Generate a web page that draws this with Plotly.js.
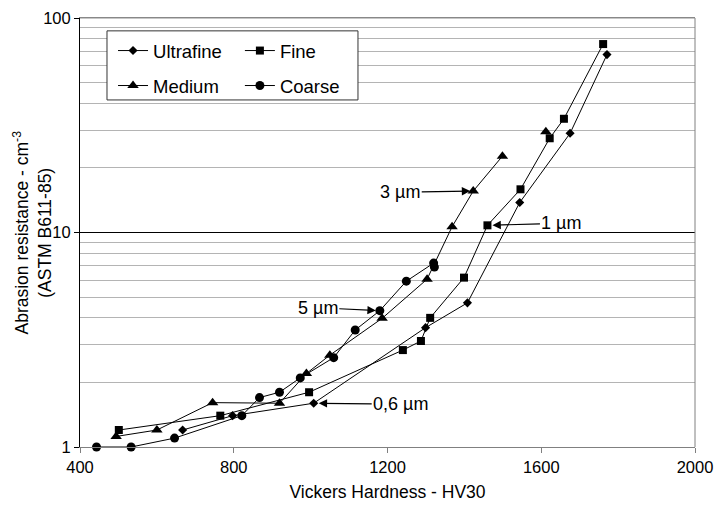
<!DOCTYPE html>
<html>
<head>
<meta charset="utf-8">
<script src="https://cdn.plot.ly/plotly-3.0.1.min.js"></script>
<style>html,body{margin:0;padding:0;background:#fff;}#chart{width:715px;height:507px;}</style>
</head>
<body>
<div id="chart"></div>
<script>
// ---- data ----
const ultrafineX = [667, 797, 1008, 1299, 1408, 1544, 1675, 1771];
const ultrafineY = [1.2, 1.4, 1.6, 3.6, 4.7, 13.8, 29, 67.5];

const fineX = [501, 765, 996, 1240, 1287, 1311, 1399, 1460, 1546, 1622, 1659, 1761];
const fineY = [1.2, 1.4, 1.8, 2.83, 3.12, 4.0, 6.16, 10.8, 15.9, 27.5, 33.9, 75.6];

const mediumX = [494, 600, 745, 919, 989, 1050, 1186, 1303, 1368, 1423, 1499];
const mediumY = [1.12, 1.2, 1.61, 1.6, 2.2, 2.68, 3.98, 6.06, 10.64, 15.6, 22.7];
const mediumLoneX = [1612];
const mediumLoneY = [29.5];

const coarseX = [443, 533, 646, 821, 867, 919, 973, 1060, 1116, 1180, 1249, 1320, 1322];
const coarseY = [1.0, 1.0, 1.1, 1.4, 1.7, 1.8, 2.1, 2.61, 3.51, 4.32, 5.93, 7.2, 6.9];

const seriesNames = ['Ultrafine', 'Fine', 'Medium', 'Coarse'];
const xTickVals = [400, 800, 1200, 1600, 2000];
const sizeLabels = ['3 µm', '1 µm', '5 µm', '0,6 µm'];

const FONT = 'Liberation Sans, Arial, Helvetica, sans-serif';

function tr(name, x, y, symbol, size, legend, show) {
  return {
    type: 'scatter', mode: 'lines+markers', name: name, x: x, y: y,
    line: {color: '#000', width: 1},
    marker: {symbol: symbol, size: size, color: '#000'},
    cliponaxis: false, legend: legend, showlegend: show !== false
  };
}

const traces = [
  tr(seriesNames[0], ultrafineX, ultrafineY, 'diamond', 7, 'legend'),
  tr(seriesNames[1], fineX, fineY, 'square', 8, 'legend2'),
  tr(seriesNames[2], mediumX, mediumY, 'triangle-up', 10, 'legend3'),
  Object.assign(tr(seriesNames[2], mediumLoneX, mediumLoneY, 'triangle-up', 10, 'legend3', false), {mode: 'markers'}),
  tr(seriesNames[3], coarseX, coarseY, 'circle', 9, 'legend4')
];

function leg(x, y) {
  return {x: x, y: y, xanchor: 'left', yanchor: 'middle', bgcolor: 'rgba(0,0,0,0)',
          borderwidth: 0, font: {family: FONT, size: 18.5, color: '#000'}, itemwidth: 30};
}

function arrow(text, x, y, ax, ay, standoff) {
  return {text: text, x: x, y: Math.log10(y), xref: 'x', yref: 'y', ax: ax, ay: ay,
          showarrow: true, arrowhead: 2, arrowsize: 1.4, arrowwidth: 1.2, arrowcolor: '#000',
          standoff: standoff, font: {family: FONT, size: 18, color: '#000'}};
}

const layout = {
  width: 715, height: 507,
  margin: {l: 80, r: 20, t: 18, b: 60},
  paper_bgcolor: '#fff', plot_bgcolor: '#fff',
  font: {family: FONT, color: '#000'},
  xaxis: {
    range: [400, 2000], tickvals: xTickVals, ticks: 'outside', ticklen: 5, tickcolor: '#808080',
    showgrid: false, zeroline: false, showline: true, linecolor: '#808080', linewidth: 1, mirror: true,
    tickfont: {family: FONT, size: 16.5, color: '#000'},
    title: {text: 'Vickers Hardness - HV30', font: {family: FONT, size: 17.5, color: '#000'}, standoff: 10}
  },
  yaxis: {
    type: 'log', range: [0, 2], dtick: 1, ticks: 'outside', ticklen: 5, tickcolor: '#000',
    showgrid: true, gridcolor: '#000', gridwidth: 1, zeroline: false,
    showline: true, linecolor: '#000', linewidth: 1,
    tickfont: {family: FONT, size: 16.5, color: '#000'},
    minor: {dtick: 'D1', showgrid: true, gridcolor: '#b4b4b4', gridwidth: 1, ticks: ''}
  },
  legend: leg(0.0537, 0.923),
  legend2: leg(0.260, 0.923),
  legend3: leg(0.0537, 0.8415),
  legend4: leg(0.260, 0.8415),
  shapes: [
    {type: 'line', xref: 'paper', yref: 'paper', x0: 1, x1: 1, y0: 0, y1: 1, line: {color: '#808080', width: 1}},
    {type: 'line', xref: 'paper', yref: 'paper', x0: 0, x1: 1, y0: 1, y1: 1, line: {color: '#909090', width: 1}, layer: 'above'},
    {type: 'rect', xref: 'paper', yref: 'paper', x0: 0.0439, x1: 0.452, y0: 0.809, y1: 0.970,
     fillcolor: '#fff', line: {color: '#333', width: 1}, layer: 'above'}
  ],
  annotations: [
    {text: 'Abrasion resistance - cm<sup>-3</sup><br>(ASTM B611-85)', xref: 'paper', yref: 'paper',
     x: -0.078, y: 0.5, xanchor: 'center', yanchor: 'middle', textangle: -90, showarrow: false,
     font: {family: FONT, size: 17.5, color: '#000'}},
    arrow(sizeLabels[0], mediumX[9], mediumY[9], -73, 1, 3),
    arrow(sizeLabels[1], fineX[7], fineY[7], 74, -2, 5),
    arrow(sizeLabels[2], coarseX[9], coarseY[9], -62, -3, 4),
    arrow(sizeLabels[3], ultrafineX[2], ultrafineY[2], 87, 1, 5)
  ],
  showlegend: true
};

Plotly.newPlot('chart', traces, layout, {staticPlot: true, displayModeBar: false});
</script>
</body>
</html>
